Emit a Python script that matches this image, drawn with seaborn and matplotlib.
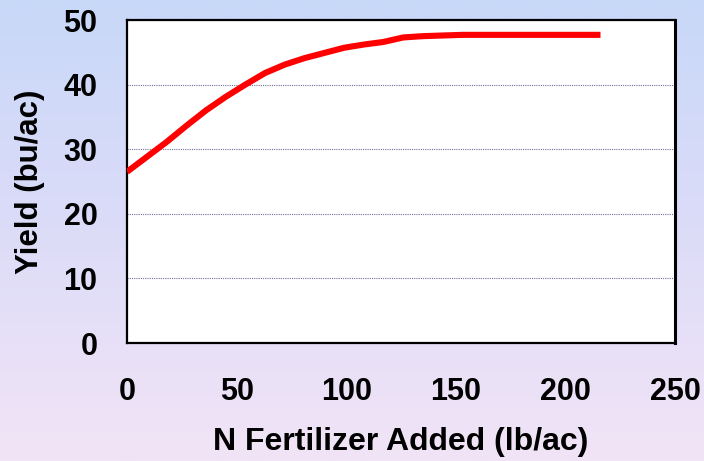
import numpy as np
import pandas as pd
import matplotlib
matplotlib.use("Agg")
import matplotlib.pyplot as plt
import seaborn as sns
from matplotlib.colors import LinearSegmentedColormap

# Data
n_rate = [0, 9, 18, 27, 36, 45, 54, 63, 72, 81, 90, 99, 108, 117, 126,
          135, 144, 153, 162, 171, 180, 189, 198, 207, 216]
yield_bu = [26.5, 28.8, 31.1, 33.6, 36.0, 38.1, 40.0, 41.8, 43.1, 44.1, 44.9,
            45.7, 46.2, 46.6, 47.3, 47.5, 47.6, 47.7, 47.7, 47.7, 47.7, 47.7,
            47.7, 47.7, 47.7]
x_ticks = [0, 50, 100, 150, 200, 250]
y_ticks = [0, 10, 20, 30, 40, 50]

df = pd.DataFrame({"N": n_rate, "Yield": yield_bu})

sns.set_theme(style="white")
plt.rcParams['font.family'] = ['Liberation Sans', 'DejaVu Sans']

fig = plt.figure(figsize=(7.04, 4.61), dpi=100)

# background gradient
bg = fig.add_axes([0, 0, 1, 1], zorder=-10)
cmap = LinearSegmentedColormap.from_list("bg", ["#C8D8F8", "#DCDCF8", "#F2E4F6"])
grad = np.linspace(0, 1, 256).reshape(-1, 1)
bg.imshow(grad, aspect="auto", cmap=cmap, extent=[0, 1, 0, 1])
bg.set_axis_off()

ax = fig.add_axes([127/704, 1 - 343/461, (675 - 127)/704, (343 - 20)/461])
ax.set_facecolor("white")

sns.lineplot(data=df, x="N", y="Yield", ax=ax, color="#FF0000",
             linewidth=4.4, solid_capstyle="butt", zorder=5)

ax.set_xlim(0, 250)
ax.set_ylim(0, 50)
ax.set_xticks(x_ticks)
ax.set_yticks(y_ticks)
ax.set_xticklabels([str(v) for v in x_ticks])
ax.set_yticklabels([str(v) for v in y_ticks])

ax.yaxis.grid(True, linestyle=(0, (1, 1)), color="#6F6F9A", linewidth=0.8)
ax.xaxis.grid(False)

for s in ax.spines.values():
    s.set_visible(True)
    s.set_color("black")
    s.set_linewidth(1.6)
ax.spines["right"].set_linewidth(2.2)
ax.spines["top"].set_linewidth(1.6)

ax.tick_params(axis="both", direction="inout", length=14.4, width=1.2,
               color="black", labelsize=22, labelcolor="black")
ax.tick_params(axis="y", pad=14.0)
ax.tick_params(axis="x", pad=17)
for lbl in ax.get_xticklabels() + ax.get_yticklabels():
    lbl.set_fontweight("bold")

ax.set_xlabel("N Fertilizer Added (lb/ac)", fontsize=23, fontweight="bold",
              labelpad=15, color="black")
ax.set_ylabel("Yield (bu/ac)", fontsize=22.5, fontweight="bold",
              labelpad=13, color="black")

fig.savefig("out.png", dpi=100)
